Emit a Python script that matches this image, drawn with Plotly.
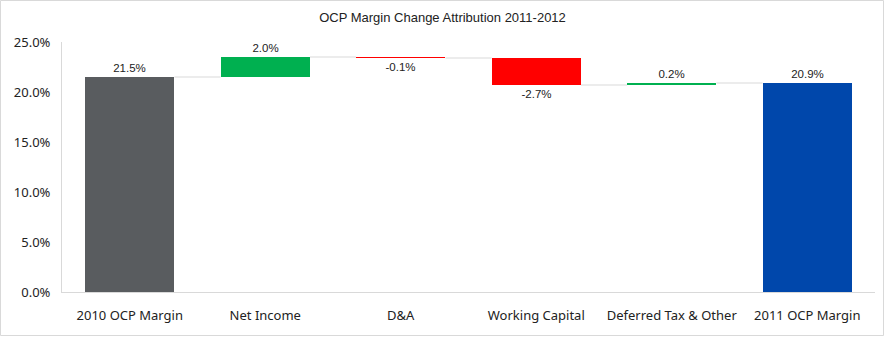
import plotly.graph_objects as go

categories = ["2010 OCP Margin", "Net Income", "D&A", "Working Capital",
              "Deferred Tax & Other", "2011 OCP Margin"]
values = [21.5, 2.0, -0.1, -2.7, 0.2, 20.9]
kinds = ["total", "delta", "delta", "delta", "delta", "total"]
y_ticks = [0, 5, 10, 15, 20, 25]

total_colors = {0: "#595c5f", 5: "#0047ab"}
up_color = "#00b050"
down_color = "#ff0000"
connector_color = "#d9d9d9"

W, H = 885, 337
ML, MR, MT, MB = 62, 10, 42, 45
bar_w = 0.66

# floating bar geometry from the running total
bases, heights, colors = [], [], []
running = 0.0
levels = []
for i, (v, k) in enumerate(zip(values, kinds)):
    if k == "total":
        bases.append(0.0)
        heights.append(v)
        colors.append(total_colors[i])
        running = v
    else:
        bases.append(running)
        heights.append(v)
        colors.append(up_color if v >= 0 else down_color)
        running = running + v
    levels.append(running)

x = list(range(len(categories)))

fig = go.Figure()
fig.add_trace(go.Bar(
    x=x, y=heights, base=bases, width=bar_w,
    marker=dict(color=colors, line=dict(width=0)),
    text=[f"{v:.1f}%" for v in values],
    textposition="outside",
    textfont=dict(family="Liberation Sans, Arial", size=11.5, color="#222222"),
    cliponaxis=False,
    hoverinfo="skip",
))

# connector lines between consecutive bars
for i in range(len(categories) - 1):
    fig.add_trace(go.Scatter(
        x=[i + bar_w / 2, i + 1 - bar_w / 2], y=[levels[i], levels[i]],
        mode="lines", line=dict(color=connector_color, width=1),
        hoverinfo="skip", showlegend=False,
    ))

fig.update_layout(
    width=W, height=H,
    margin=dict(l=ML, r=MR, t=MT, b=MB),
    paper_bgcolor="white", plot_bgcolor="white",
    showlegend=False,
    bargap=0,
    title=dict(text="OCP Margin Change Attribution 2011-2012",
               x=0.5, xanchor="center", y=1 - 17 / H, yanchor="middle",
               font=dict(family="Liberation Sans, Arial", size=13, color="#222222")),
    xaxis=dict(
        range=[-0.5, len(categories) - 0.5],
        tickmode="array", tickvals=x, ticktext=categories,
        showline=True, linecolor="#d9d9d9", linewidth=1,
        showgrid=False, zeroline=False, ticks="",
        ticklabelstandoff=11,
        tickfont=dict(family="Noto Sans", size=13, color="#222222"),
    ),
    yaxis=dict(
        range=[0, 25], tickvals=y_ticks,
        ticktext=[f"{t:.1f}%" for t in y_ticks],
        showline=True, linecolor="#d9d9d9", linewidth=1,
        showgrid=False, zeroline=False, ticks="",
        ticklabelstandoff=8,
        tickfont=dict(family="Noto Sans", size=13, color="#222222"),
    ),
    shapes=[dict(
        type="rect", xref="paper", yref="paper",
        x0=-(ML - 0.5) / (W - ML - MR), x1=1 + (MR - 1.5) / (W - ML - MR),
        y0=-(MB - 1.5) / (H - MT - MB), y1=1 + (MT - 0.5) / (H - MT - MB),
        line=dict(color="#d9d9d9", width=1), layer="below",
    )],
)

fig.write_html("out.html")
